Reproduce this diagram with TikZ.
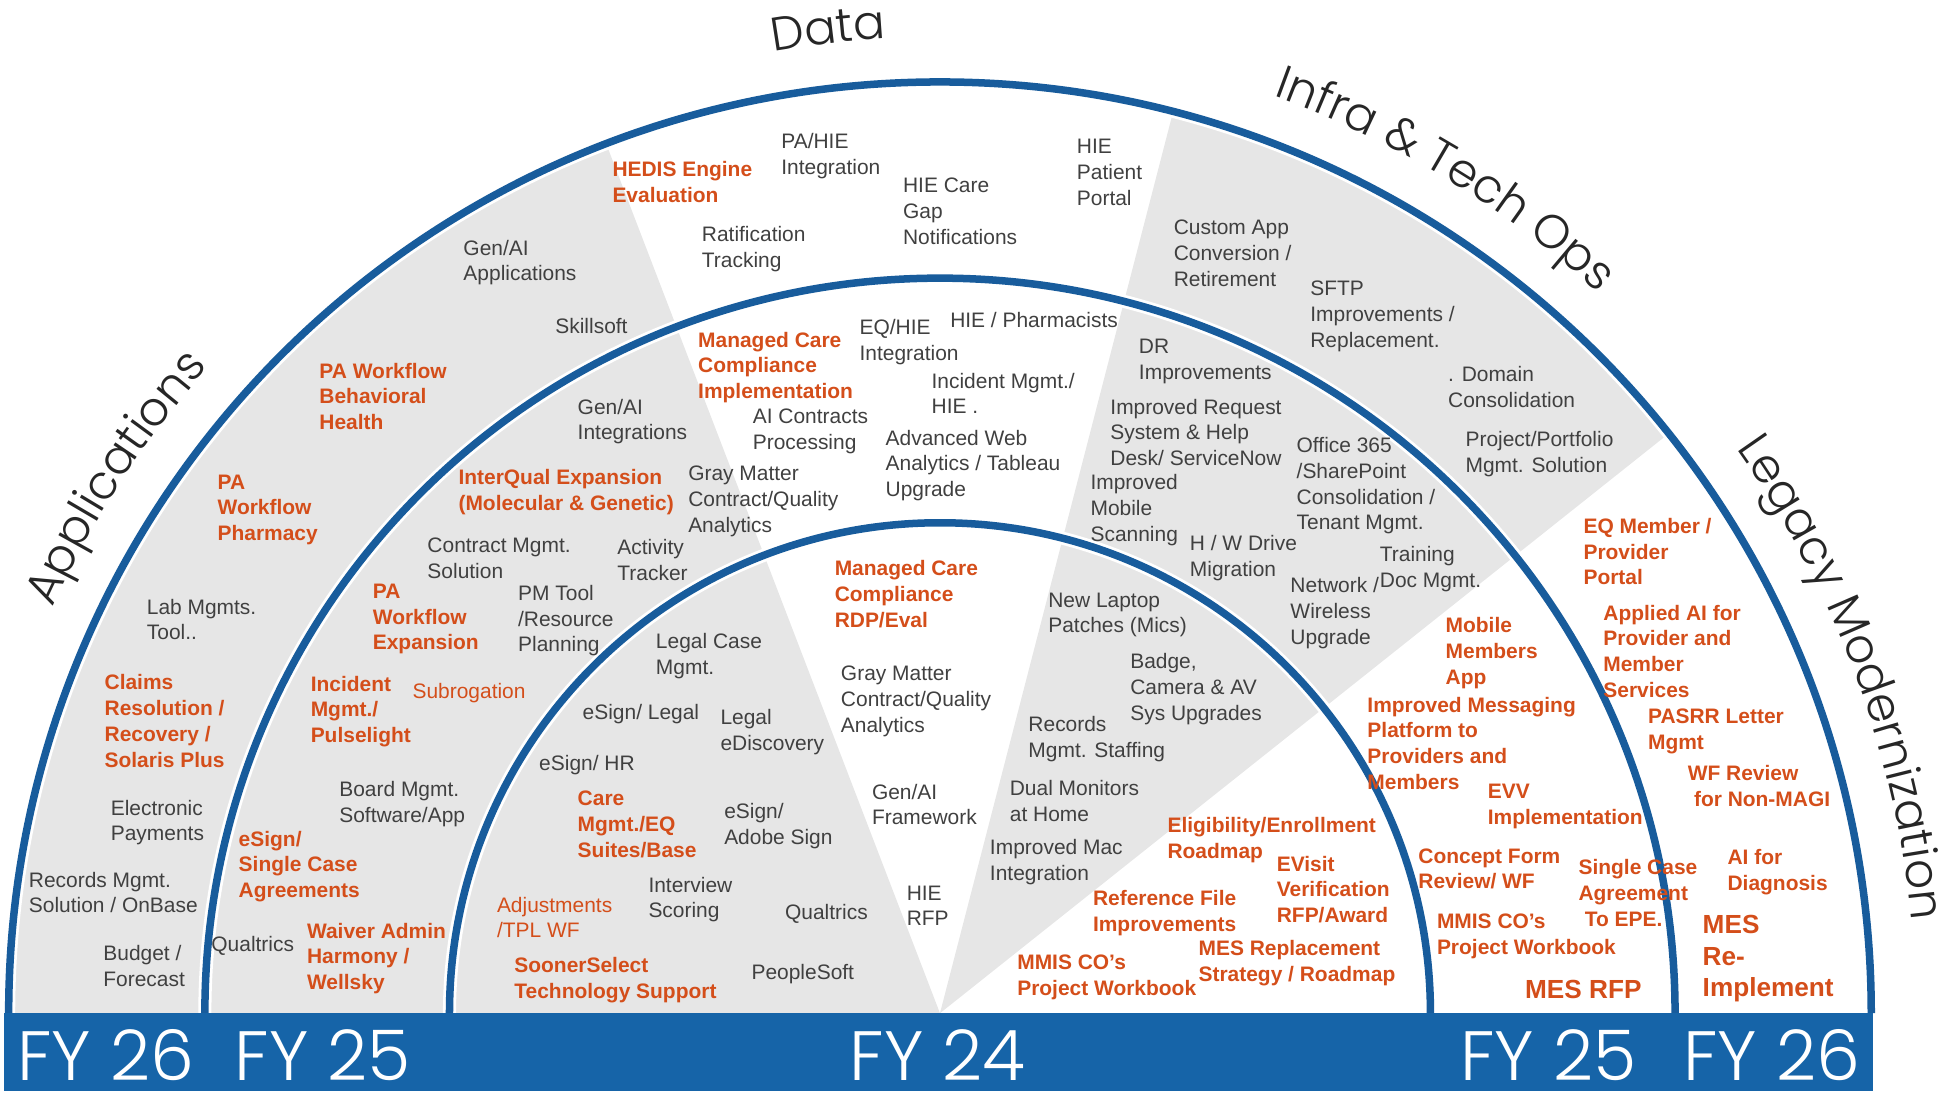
\documentclass[tikz,border=0pt]{standalone}
\usepackage{fontspec}
\setmainfont{Liberation Sans}
\newfontfamily\catfamily{Poppins}[UprightFont=* Light]
\usetikzlibrary{decorations.text}

\definecolor{arcblue}{RGB}{24,92,156}
\definecolor{barblue}{RGB}{22,100,168}
\definecolor{wedgegray}{RGB}{230,230,230}
\definecolor{itemgray}{RGB}{64,64,64}
\definecolor{hotorange}{RGB}{212,78,26}
\definecolor{catgray}{RGB}{38,38,38}

\newcommand{\itemfont}{\fontsize{12}{14.75}\selectfont}
\newcommand{\bigfont}{\fontsize{15}{18.1}\selectfont}
\newcommand{\fyfont}{\catfamily\fontsize{40}{40}\selectfont}
\newcommand{\catfont}{\catfamily\fontsize{27}{27}\selectfont}

\begin{document}
\begin{tikzpicture}[x=0.25mm, y=0.25mm,
  item/.style={anchor=north west, align=left, inner sep=0pt, text=itemgray, font=\itemfont},
  hot/.style={item, text=hotorange, font=\itemfont\bfseries},
  warm/.style={item, text=hotorange},
  big/.style={hot, font=\bigfont\bfseries},
  fy/.style={anchor=base, inner sep=0pt, text=white, font=\fyfont},
  ring/.style={arcblue, line width=4.3pt},
  halo/.style={white, line width=7.5pt},
  cat/.style={decorate, decoration={text along path, text align=center, text color=catgray, text={|\catfont|#1}}}]

\useasboundingbox (-757,-66) rectangle (811,816);

% sectors
\fill[wedgegray] (0,0) -- (180:750) arc (180:111:750) -- cycle;
\fill[wedgegray] (0,0) -- (75.5:750) arc (75.5:38.5:750) -- cycle;

% rings
\foreach \r in {395,592,750} {
  \draw[halo] (180:\r) arc (180:0:\r);
  \draw[ring] (180:\r) arc (180:0:\r);
}

\fill[barblue] (-754,-63) rectangle (751,0);

% category labels
\path[cat=Applications] (170:786) arc (170:124:786);
\path[cat=Data] (111:786) arc (111:82:786);
\path[cat={Infra {\&} Tech Ops}] (80:786) arc (80:37.6:786);
\path[cat={Legacy Modernization}] (42:786) arc (42:-1.2:786);

% data
\node[hot] (hedis) at (-264,686) {HEDIS Engine\\Evaluation};
\node[item] (pahie) at (-128,709) {PA/HIE\\Integration};
\node[item] (hiecare) at (-30,673) {HIE Care\\Gap\\Notifications};
\node[item] (hieportal) at (110,704) {HIE\\Patient\\Portal};
\node[item] (ratify) at (-192,634) {Ratification\\Tracking};
\node[hot] (mcimpl) at (-195,549) {Managed Care\\Compliance\\Implementation};
\node[item] (eqhie) at (-65,559) {EQ/HIE\\Integration};
\node[item] (pharm) at (8,565) {HIE / Pharmacists};
\node[item] (incidenthie) at (-7,516) {Incident Mgmt./\\HIE .};
\node[item] (aicontract) at (-151,487) {AI Contracts\\Processing};
\node[item] (webanalytics) at (-44,470) {Advanced Web\\Analytics / Tableau\\Upgrade};
\node[item] (graymid) at (-203,441) {Gray Matter\\Contract/Quality\\Analytics};
\node[hot] (mcrdp) at (-85,365) {Managed Care\\Compliance\\RDP/Eval};
\node[item] (grayin) at (-80,280) {Gray Matter\\Contract/Quality\\Analytics};
\node[item] (genaifw) at (-55,185) {Gen/AI\\Framework};
\node[item] (hierfp) at (-27,103) {HIE\\RFP};

% applications
\node[item] (genaiapps) at (-384,623) {Gen/AI\\Applications};
\node[item] (skillsoft) at (-310,560) {Skillsoft};
\node[hot] (pabehav) at (-500,524) {PA Workflow\\Behavioral\\Health};
\node[hot] (papharm) at (-582,434) {PA\\Workflow\\Pharmacy};
\node[item] (labmgmt) at (-639,334) {Lab Mgmts.\\Tool..};
\node[hot] (claims) at (-673,273) {Claims\\Resolution /\\Recovery /\\Solaris Plus};
\node[item] (epay) at (-668,172) {Electronic\\Payments};
\node[item] (onbase) at (-734,114) {Records Mgmt.\\Solution / OnBase};
\node[item] (budget) at (-674,55) {Budget /\\Forecast};
\node[item] (genaiint) at (-292,495) {Gen/AI\\Integrations};
\node[hot] (interqual) at (-388,438) {InterQual Expansion\\(Molecular \& Genetic)};
\node[item] (contract) at (-413,383) {Contract Mgmt.\\Solution};
\node[item] (activity) at (-260,382) {Activity\\Tracker};
\node[hot] (paexp) at (-457,346) {PA\\Workflow\\Expansion};
\node[item] (pmtool) at (-340,345) {PM Tool\\/Resource\\Planning};
\node[hot] (incident) at (-507,272) {Incident\\Mgmt./\\Pulselight};
\node[warm] (subro) at (-425,266) {Subrogation};
\node[item] (board) at (-484,187) {Board Mgmt.\\Software/App};
\node[hot] (esignscase) at (-565,147) {eSign/\\Single Case\\Agreements};
\node[item] (qualtrics25) at (-587,62) {Qualtrics};
\node[hot] (waiver) at (-510,73) {Waiver Admin\\Harmony /\\Wellsky};
\node[item] (legalcase) at (-229,306) {Legal Case\\Mgmt.};
\node[item] (esignlegal) at (-288,249) {eSign/ Legal};
\node[item] (ediscovery) at (-177,245) {Legal\\eDiscovery};
\node[item] (esignhr) at (-323,208) {eSign/ HR};
\node[hot] (caremgmt) at (-292,179) {Care\\Mgmt./EQ\\Suites/Base};
\node[item] (adobe) at (-174,169) {eSign/\\Adobe Sign};
\node[warm] (tpl) at (-357,94) {Adjustments\\/TPL WF};
\node[item] (interview) at (-235,110) {Interview\\Scoring};
\node[item] (qualtrics24) at (-125,88) {Qualtrics};
\node[hot] (sooner) at (-343,45) {SoonerSelect\\Technology Support};
\node[item] (peoplesoft) at (-152,40) {PeopleSoft};

% infra & tech ops
\node[item] (customapp) at (188,639) {Custom App\\Conversion /\\Retirement};
\node[item] (sftp) at (298,590) {SFTP\\Improvements /\\Replacement.};
\node[item] (domain) at (409,521) {. Domain\\Consolidation};
\node[item] (portfolio) at (423,469) {Project/Portfolio\\Mgmt. Solution};
\node[item] (dr) at (160,543) {DR\\Improvements};
\node[item] (servicenow) at (137,495) {Improved Request\\System \& Help\\Desk/ ServiceNow};
\node[item] (office) at (287,464) {Office 365\\/SharePoint\\Consolidation /\\Tenant Mgmt.};
\node[item] (scanning) at (121,434) {Improved\\Mobile\\Scanning};
\node[item] (hwdrive) at (201,385) {H / W Drive\\Migration};
\node[item] (training) at (354,376) {Training\\Doc Mgmt.};
\node[item] (network) at (282,351) {Network /\\Wireless\\Upgrade};
\node[item] (laptop) at (87,339) {New Laptop\\Patches (Mics)};
\node[item] (badge) at (153,290) {Badge,\\Camera \& AV\\Sys Upgrades};
\node[item] (staffing) at (71,239) {Records\\Mgmt. Staffing};
\node[item] (dualmon) at (56,188) {Dual Monitors\\at Home};
\node[item] (macint) at (40,140) {Improved Mac\\Integration};

% legacy modernization
\node[hot] (elig) at (183,158) {Eligibility/Enrollment\\Roadmap};
\node[hot] (evisit) at (271,127) {EVisit\\Verification\\RFP/Award};
\node[hot] (reffile) at (123,99) {Reference File\\Improvements};
\node[hot] (mesrepl) at (208,59) {MES Replacement\\Strategy / Roadmap};
\node[hot] (mmis24) at (62,47) {MMIS CO’s\\Project Workbook};
\node[hot] (mobile) at (407,319) {Mobile\\Members\\App};
\node[hot] (messaging) at (344,255) {Improved Messaging\\Platform to\\Providers and\\Members};
\node[hot] (evv) at (441,185) {EVV\\Implementation};
\node[hot] (concept) at (385,133) {Concept Form\\Review/ WF};
\node[hot] (mmis25) at (400,80) {MMIS CO’s\\Project Workbook};
\node[big] (mesrfp) at (471,27) {MES RFP};
\node[hot] (eqmember) at (518,399) {EQ Member /\\Provider\\Portal};
\node[hot] (appliedai) at (534,329) {Applied AI for\\Provider and\\Member\\Services};
\node[hot] (pasrr) at (570,245) {PASRR Letter\\Mgmt};
\node[hot] (wfreview) at (602,200) {WF Review\\\hspace*{1.25mm}for Non-MAGI};
\node[hot] (singlecase) at (514,124) {Single Case\\Agreement\\\hspace*{1.25mm}To EPE.};
\node[hot] (aidiag) at (634,132) {AI for\\Diagnosis};
\node[big] (mesre) at (614,79) {MES\\Re-\\Implement};

% fiscal years
\node[fy] (fy26l) at (-672,-54) {FY 26};
\node[fy] (fy25l) at (-497,-54) {FY 25};
\node[fy] (fy24) at (-2,-54) {FY 24};
\node[fy] (fy25r) at (490,-54) {FY 25};
\node[fy] (fy26r) at (670,-54) {FY 26};
\end{tikzpicture}
\end{document}
